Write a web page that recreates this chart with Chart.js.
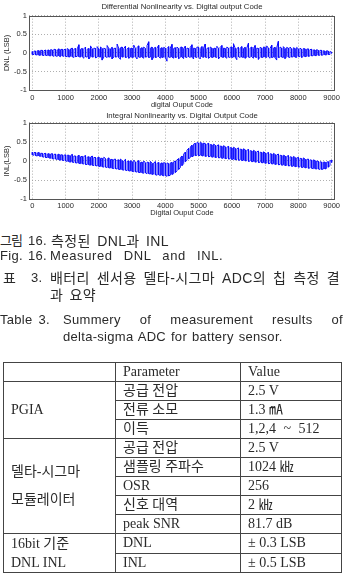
<!DOCTYPE html>
<html>
<head>
<meta charset="utf-8">
<script src="https://cdn.jsdelivr.net/npm/chart.js@4.4.1/dist/chart.umd.min.js"></script>
<style>
html,body{margin:0;padding:0;background:#fff;}
body{position:relative;width:343px;height:588px;overflow:hidden;color:#2a2a2a;
  font-family:"Liberation Sans","Noto Sans CJK KR",sans-serif;}
canvas{position:absolute;left:0;}
#c1{top:0;}
#c2{top:108px;}
.ln{position:absolute;font-size:14px;line-height:16px;white-space:nowrap;letter-spacing:0.4px;word-spacing:2px;}
.la{font-size:13px;letter-spacing:0.3px;}
.just{position:absolute;line-height:16px;text-align:justify;text-align-last:justify;white-space:normal;}
#tbl{position:absolute;left:3px;top:362px;width:338px;border-collapse:collapse;table-layout:fixed;
  font-family:"Liberation Serif","Noto Sans CJK KR",serif;font-size:14px;color:#2a2a2a;}
#tbl td{border:1px solid #444;padding:0 0 0 7px;height:18px;line-height:18px;vertical-align:middle;white-space:nowrap;}
</style>
</head>
<body>
<canvas id="c1" width="343" height="110"></canvas>
<canvas id="c2" width="343" height="110"></canvas>

<div class="ln" style="left:0px;top:233px;font-size:13px;letter-spacing:-1px;">그림</div>
<div class="ln la" style="left:28px;top:233px;">16.</div>
<div class="ln" style="left:51px;top:233px;">측정된 DNL과 INL</div>

<div class="ln la" style="left:0px;top:248px;">Fig.</div>
<div class="ln la" style="left:28px;top:248px;">16.</div>
<div class="ln la" style="left:50px;top:248px;letter-spacing:0.6px;word-spacing:7px;">Measured DNL and INL.</div>

<div class="ln" style="left:3px;top:270px;">표</div>
<div class="ln la" style="left:31px;top:270px;">3.</div>
<div class="just" style="left:50px;top:270px;width:290px;font-size:14px;letter-spacing:0.4px;">배터리 센서용 델타-시그마 ADC의 칩 측정 결</div>
<div class="ln" style="left:50px;top:287px;">과 요약</div>

<div class="ln la" style="left:0px;top:312px;">Table 3.</div>
<div class="just" style="left:63px;top:312px;width:280px;font-size:13px;letter-spacing:0.3px;">Summery of measurement results of</div>
<div class="ln la" style="left:63px;top:329px;word-spacing:1px;">delta-sigma ADC for battery sensor.</div>

<table id="tbl">
<colgroup><col style="width:112px"><col style="width:125px"><col style="width:101px"></colgroup>
<tr><td></td><td>Parameter</td><td>Value</td></tr>
<tr><td rowspan="3">PGIA</td><td>공급 전압</td><td>2.5 V</td></tr>
<tr><td>전류 소모</td><td>1.3 ㎃</td></tr>
<tr><td>이득</td><td style="word-spacing:4px;">1,2,4 ~ 512</td></tr>
<tr><td rowspan="5" style="line-height:28px;">델타-시그마<br>모듈레이터</td><td>공급 전압</td><td>2.5 V</td></tr>
<tr><td>샘플링 주파수</td><td>1024 ㎑</td></tr>
<tr><td>OSR</td><td>256</td></tr>
<tr><td>신호 대역</td><td>2 ㎑</td></tr>
<tr><td>peak SNR</td><td>81.7 dB</td></tr>
<tr><td rowspan="2" style="line-height:19px;">16bit 기준<br>DNL INL</td><td>DNL</td><td>± 0.3 LSB</td></tr>
<tr><td>INL</td><td>± 0.5 LSB</td></tr>
</table>

<script>
// ---- data ----
const dnlTitle = 'Differential Nonlinearity vs. Digital output Code';
const inlTitle = 'Integral Nonlinearity vs. Digital Output Code';
const dnlXTitle = 'digital Ouput Code';
const inlXTitle = 'Digital Ouput Code';
const dnlYTitle = 'DNL (LSB)';
const inlYTitle = 'INL(LSB)';
const xTickLabels = [0, 1000, 2000, 3000, 4000, 5000, 6000, 7000, 8000, 9000];
const yTickLabels = [-1, -0.5, 0, 0.5, 1];
// each bin of 50 codes: highest and lowest reading seen in the trace
const codeStart = 0;
const codeStep = 50;

const dnlHigh = [
 .04,.05,.05,.06,.06,.07,.07,.06,.08,.07,
 .08,.09,.08,.10,.09,.08,.11,.09,.10,.09,
 .10,.12,.09,.11,.13,.10,.12,.11,.22,.10,
 .12,.11,.16,.10,.12,.19,.11,.13,.12,.17,
 .11,.16,.12,.13,.11,.20,.12,.11,.15,.12,
 .13,.24,.12,.14,.16,.12,.18,.11,.14,.12,
 .13,.21,.12,.15,.19,.12,.14,.16,.12,.20,
 .30,.13,.16,.12,.15,.13,.21,.12,.14,.15,
 .13,.12,.17,.13,.23,.12,.14,.16,.12,.15,
 .16,.12,.18,.13,.12,.15,.22,.13,.12,.16,
 .15,.12,.17,.13,.24,.12,.14,.16,.13,.12,
 .13,.18,.12,.15,.20,.13,.12,.16,.13,.15,
 .16,.25,.13,.12,.15,.13,.17,.12,.15,.13,
 .26,.13,.16,.12,.20,.13,.12,.15,.13,.16,
 .15,.19,.13,.12,.21,.13,.15,.14,.31,.16,
 .13,.17,.12,.15,.13,.16,.11,.14,.12,.15,
 .11,.13,.10,.12,.11,.10,.11,.09,.10,.08,
 .08,.09,.07,.07,.07,.06,.05,.06,.05,.04,
 .02
];
const dnlLow = [
 -.04,-.04,-.05,-.05,-.06,-.06,-.06,-.07,-.06,-.07,
 -.07,-.08,-.07,-.09,-.08,-.09,-.08,-.10,-.08,-.09,
 -.09,-.10,-.11,-.09,-.10,-.12,-.10,-.09,-.10,-.11,
 -.10,-.14,-.10,-.11,-.16,-.10,-.11,-.10,-.13,-.11,
 -.10,-.11,-.19,-.11,-.10,-.12,-.11,-.10,-.16,-.11,
 -.11,-.10,-.12,-.17,-.11,-.10,-.12,-.11,-.14,-.11,
 -.12,-.11,-.10,-.16,-.11,-.12,-.11,-.14,-.11,-.10,
 -.12,-.11,-.18,-.11,-.12,-.11,-.10,-.14,-.12,-.11,
 -.12,-.22,-.11,-.12,-.11,-.14,-.12,-.11,-.15,-.12,
 -.11,-.15,-.11,-.12,-.10,-.12,-.11,-.16,-.11,-.12,
 -.11,-.16,-.10,-.12,-.11,-.12,-.14,-.11,-.12,-.11,
 -.11,-.12,-.16,-.10,-.11,-.12,-.11,-.14,-.11,-.12,
 -.12,-.11,-.11,-.18,-.10,-.12,-.11,-.12,-.14,-.11,
 -.11,-.12,-.10,-.14,-.11,-.12,-.17,-.11,-.12,-.11,
 -.11,-.12,-.10,-.14,-.12,-.11,-.12,-.19,-.12,-.11,
 -.11,-.12,-.15,-.10,-.11,-.12,-.11,-.10,-.11,-.12,
 -.09,-.10,-.12,-.09,-.10,-.09,-.09,-.08,-.08,-.07,
 -.07,-.07,-.06,-.06,-.06,-.05,-.05,-.05,-.04,-.04,
 -.01
];

const inlHigh = [
 .23,.22,.22,.21,.22,.20,.20,.19,.20,.18,
 .19,.18,.19,.17,.18,.16,.18,.16,.16,.15,
 .16,.15,.15,.14,.17,.13,.13,.12,.15,.11,
 .12,.12,.14,.10,.11,.10,.13,.09,.09,.08,
 .10,.07,.07,.10,.06,.05,.08,.04,.04,.04,
 .05,.02,.03,.05,.01,.00,.04,-.01,.00,.01,
 -.02,.02,-.03,-.02,.01,-.04,-.03,.00,-.05,-.03,
 -.04,-.01,-.06,-.05,-.02,-.06,-.04,-.07,-.05,-.04,
 -.06,-.05,-.07,-.05,-.04,-.02,.00,.03,.06,.09,
 .13,.18,.23,.28,.33,.37,.41,.44,.46,.48,
 .47,.49,.46,.47,.45,.44,.46,.43,.42,.44,
 .41,.40,.42,.39,.38,.40,.37,.36,.38,.35,
 .34,.36,.33,.32,.34,.31,.30,.32,.29,.28,
 .30,.27,.26,.28,.25,.24,.26,.23,.22,.24,
 .21,.20,.22,.19,.18,.20,.17,.16,.18,.15,
 .14,.15,.13,.12,.14,.11,.10,.12,.09,.08,
 .09,.07,.06,.08,.05,.04,.05,.03,.02,.03,
 .01,.00,-.01,-.02,-.03,-.03,-.03,-.03,-.02,.00,
 .02
];
const inlLow = [
 .16,.15,.14,.13,.13,.12,.11,.10,.09,.09,
 .08,.07,.06,.05,.05,.04,.03,.02,.02,.01,
 .00,-.01,-.02,-.03,-.03,-.04,-.05,-.05,-.06,-.07,
 -.07,-.08,-.09,-.09,-.10,-.11,-.11,-.12,-.12,-.13,
 -.14,-.14,-.15,-.16,-.16,-.17,-.18,-.18,-.19,-.20,
 -.20,-.21,-.22,-.22,-.23,-.24,-.24,-.25,-.26,-.26,
 -.27,-.28,-.28,-.29,-.30,-.30,-.31,-.32,-.31,-.33,
 -.33,-.34,-.35,-.34,-.36,-.37,-.36,-.38,-.37,-.39,
 -.38,-.40,-.39,-.37,-.35,-.33,-.30,-.26,-.22,-.17,
 -.12,-.07,-.02,.02,.06,.09,.11,.13,.14,.15,
 .14,.15,.13,.14,.12,.13,.11,.12,.10,.11,
 .09,.10,.08,.09,.07,.08,.06,.07,.05,.06,
 .04,.05,.03,.04,.02,.03,.01,.02,.00,.01,
 -.01,.00,-.02,-.01,-.03,-.02,-.04,-.03,-.05,-.04,
 -.06,-.05,-.07,-.06,-.08,-.07,-.09,-.08,-.10,-.09,
 -.11,-.10,-.12,-.11,-.13,-.12,-.14,-.13,-.15,-.14,
 -.16,-.15,-.17,-.16,-.18,-.17,-.19,-.18,-.19,-.20,
 -.20,-.21,-.21,-.22,-.22,-.21,-.21,-.19,-.16,-.12,
 -.04
];

// ---- chart construction ----
const FONT = {family: '"Liberation Sans", Arial, sans-serif', size: 7.5, lineHeight: 1.2, weight: 'normal'};
const TITLE_FONT = {family: '"Liberation Sans", Arial, sans-serif', size: 7.8, lineHeight: 1.2, weight: 'normal'};
const TEXT = '#2a2a2a';

const boxPlugin = {
  id: 'box',
  afterDatasetsDraw(chart) {
    const a = chart.chartArea, ctx = chart.ctx;
    ctx.save();
    ctx.strokeStyle = '#555';
    ctx.lineWidth = 1;
    ctx.strokeRect(Math.round(a.left) + 0.5, Math.round(a.top) + 0.5,
                   Math.round(a.right - a.left) - 1, Math.round(a.bottom - a.top) - 1);
    ctx.restore();
  }
};

function tracePoints(high, low) {
  const pts = [];
  high.forEach((h, i) => {
    const x = codeStart + i * codeStep;
    if (i % 2 === 0) { pts.push({x, y: h}); pts.push({x, y: low[i]}); }
    else { pts.push({x, y: low[i]}); pts.push({x, y: h}); }
  });
  return pts;
}

function makeChart(id, high, low, title, xTitle, yTitle, lay) {
  return new Chart(document.getElementById(id), {
    type: 'line',
    data: {datasets: [{data: tracePoints(high, low), borderColor: '#0a0aff', borderWidth: 1,
      pointRadius: 0, tension: 0, fill: false}]},
    options: {
      responsive: false, animation: false, devicePixelRatio: 1,
      layout: {padding: {left: 0, right: 8, top: 0, bottom: 0}},
      plugins: {
        legend: {display: false}, tooltip: {enabled: false},
        title: {display: true, text: title, color: TEXT, font: TITLE_FONT, fullSize: false,
          padding: {top: lay.titleTop, bottom: lay.titleBottom}}
      },
      scales: {
        x: {
          type: 'linear', min: -100, max: 9100,
          afterBuildTicks: s => { s.ticks = xTickLabels.map(v => ({value: v})); },
          afterFit: s => { s.height = lay.xHeight; },
          ticks: {color: TEXT, font: FONT, padding: lay.xPad, maxRotation: 0, autoSkip: false,
            callback: v => String(v)},
          grid: {color: '#9a9a9a', lineWidth: 0.8, drawTicks: false},
          border: {display: false, dash: [1, 2]},
          title: {display: true, text: xTitle, color: TEXT, font: FONT, padding: {top: 0, bottom: 0.5}}
        },
        y: {
          min: -1, max: 1,
          afterBuildTicks: s => { s.ticks = yTickLabels.map(v => ({value: v})); },
          afterFit: s => { s.width = 29; },
          ticks: {color: TEXT, font: FONT, padding: 2, callback: v => String(v)},
          grid: {color: '#9a9a9a', lineWidth: 0.8, drawTicks: false},
          border: {display: false, dash: [1, 2]},
          title: {display: true, text: yTitle, color: TEXT, font: FONT, padding: {top: 2, bottom: 0}}
        }
      }
    },
    plugins: [boxPlugin]
  });
}

makeChart('c1', dnlHigh, dnlLow, dnlTitle, dnlXTitle, dnlYTitle,
  {titleTop: 2.3, titleBottom: 4.0, xHeight: 19.7, xPad: 3});
makeChart('c2', inlHigh, inlLow, inlTitle, inlXTitle, inlYTitle,
  {titleTop: 3.3, titleBottom: 2.0, xHeight: 18.7, xPad: 2});
</script>
</body>
</html>
